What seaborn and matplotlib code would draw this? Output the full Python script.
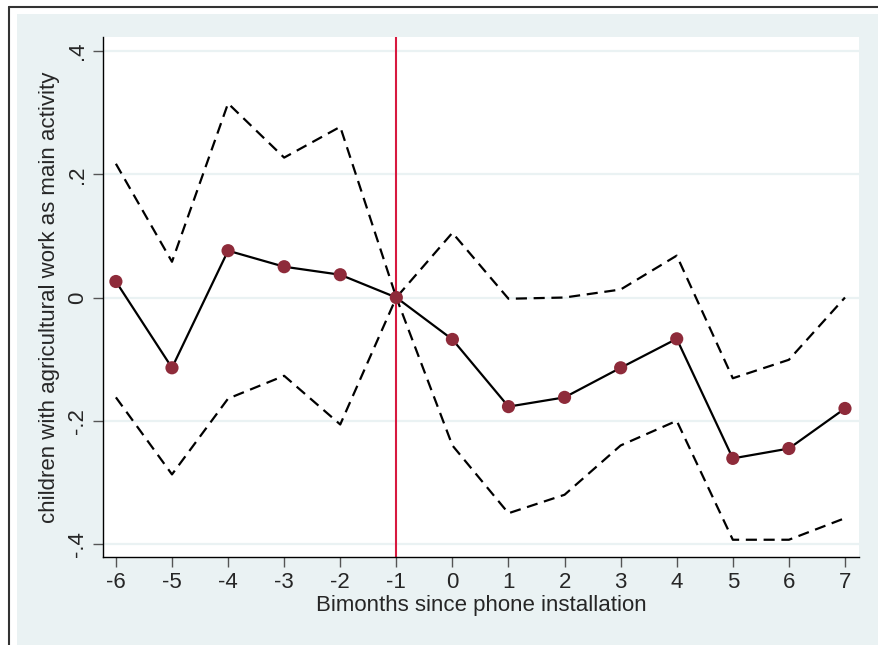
import numpy as np
import pandas as pd
import seaborn as sns
import matplotlib.pyplot as plt
from matplotlib.lines import Line2D
from matplotlib.patches import Rectangle

# event-study values
periods = [-6, -5, -4, -3, -2, -1, 0, 1, 2, 3, 4, 5, 6, 7]
coef = [0.026, -0.114, 0.076, 0.050, 0.037, 0.0, -0.068, -0.177, -0.162, -0.114, -0.067, -0.261, -0.245, -0.180]
ci_upper = [0.217, 0.058, 0.315, 0.227, 0.277, 0.0, 0.105, -0.002, 0.0, 0.013, 0.068, -0.131, -0.101, 0.0]
ci_lower = [-0.162, -0.287, -0.164, -0.127, -0.206, 0.0, -0.240, -0.350, -0.320, -0.240, -0.200, -0.393, -0.393, -0.358]
yticks = [-0.4, -0.2, 0.0, 0.2, 0.4]
ytick_labels = ["-.4", "-.2", "0", ".2", ".4"]

df = pd.DataFrame({"t": periods, "coef": coef, "hi": ci_upper, "lo": ci_lower})

sns.set_style("white")
plt.rcParams["font.family"] = ["Liberation Sans", "DejaVu Sans"]

bg = "#EAF2F3"
fig = plt.figure(figsize=(8.79, 6.45), dpi=100)
W, H = 879, 645

# Stata-like outer background and frame
fig.patches.append(Rectangle((17 / W, 0), 1 - 17 / W, 1 - 14 / H, transform=fig.transFigure,
                             facecolor=bg, edgecolor="none", zorder=-5))
fig.lines.append(Line2D([9 / W, 1], [1 - 7 / H, 1 - 7 / H], transform=fig.transFigure, color="#333333", lw=1.5))
fig.lines.append(Line2D([9 / W, 9 / W], [0, 1 - 7 / H], transform=fig.transFigure, color="#333333", lw=1.5))

ax = fig.add_axes([103 / W, 1 - 557 / H, (859 - 103) / W, (557 - 37) / H])
ax.set_zorder(1)
ax.set_facecolor("white")

for y in yticks:
    ax.axhline(y, color=bg, lw=1.6, zorder=0)

ax.axvline(-1, color="#D7193F", lw=1.5, zorder=1)

sns.lineplot(data=df, x="t", y="hi", ax=ax, color="black", lw=1.6,
             linestyle=(0, (5, 3)), zorder=2)
sns.lineplot(data=df, x="t", y="lo", ax=ax, color="black", lw=1.6,
             linestyle=(0, (5, 3)), zorder=2)
sns.lineplot(data=df, x="t", y="coef", ax=ax, color="black", lw=1.6, zorder=3)
sns.scatterplot(data=df, x="t", y="coef", ax=ax, color="#8E2B3A", s=90,
                edgecolor="none", zorder=4)

ax.set_xlim(-6.23, 7.25)
ax.set_ylim(-0.421, 0.4227)
ax.set_xticks(periods)
ax.set_xticklabels([str(p) for p in periods], fontsize=16)
ax.set_yticks(yticks)
ax.set_yticklabels(ytick_labels, fontsize=16, rotation=90, va="center")

ax.tick_params(axis="both", direction="out", length=7, width=1, color="#555555", pad=4)
ax.tick_params(axis="x", bottom=True)
ax.tick_params(axis="y", left=True)

for side in ["top", "right"]:
    ax.spines[side].set_visible(False)
for side in ["left", "bottom"]:
    ax.spines[side].set_color("black")
    ax.spines[side].set_linewidth(1.0)

ax.set_xlabel("Bimonths since phone installation", fontsize=16, labelpad=1)
ax.set_ylabel("children with agricultural work as main activity", fontsize=16, labelpad=5)

fig.savefig("out.png", dpi=100)
